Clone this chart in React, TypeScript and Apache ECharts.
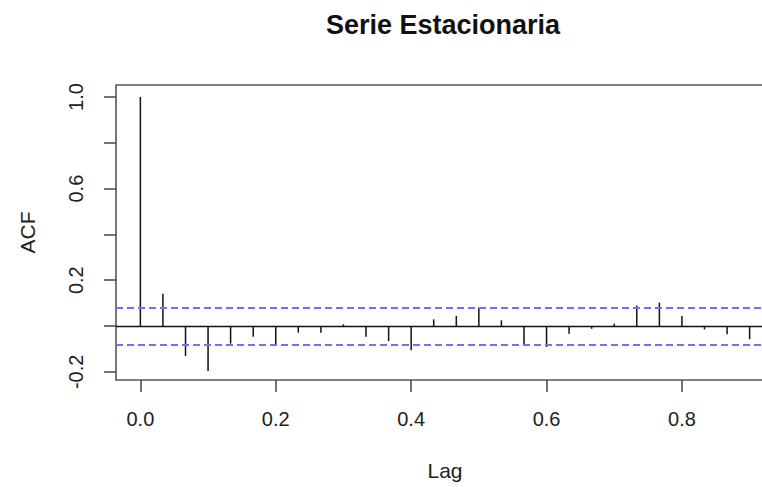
import React, { useEffect, useRef } from "react";
import * as echarts from "echarts";

const lags: number[] = [
  0.0, 0.0333, 0.0667, 0.1, 0.1333, 0.1667, 0.2, 0.2333, 0.2667, 0.3,
  0.3333, 0.3667, 0.4, 0.4333, 0.4667, 0.5, 0.5333, 0.5667, 0.6, 0.6333,
  0.6667, 0.7, 0.7333, 0.7667, 0.8, 0.8333, 0.8667, 0.9,
];
const acfValues: number[] = [
  1.0, 0.141, -0.131, -0.197, -0.077, -0.047, -0.083, -0.029, -0.029, 0.007,
  -0.047, -0.066, -0.106, 0.029, 0.044, 0.08, 0.025, -0.087, -0.092, -0.034,
  -0.012, 0.01, 0.09, 0.102, 0.044, -0.015, -0.036, -0.058,
];
const ciBound = 0.084;
const xTickValues: number[] = [0, 0.2, 0.4, 0.6, 0.8];
const yTickValues: number[] = [-0.2, 0, 0.2, 0.4, 0.6, 0.8, 1.0];
const yLabelValues: number[] = [-0.2, 0.2, 0.6, 1.0];
const titleText = "Serie Estacionaria";
const xName = "Lag";
const yName = "ACF";

const FONT = "'Liberation Sans', Arial, Helvetica, sans-serif";

export default function App() {
  const ref = useRef<HTMLDivElement>(null);
  useEffect(() => {
    if (!ref.current) return;
    const chart = echarts.init(ref.current, undefined, { renderer: "svg" });
    const data = lags.map((l, i) => [l, acfValues[i]]);
    chart.setOption({
      animation: false,
      backgroundColor: "#ffffff",
      title: {
        text: titleText,
        left: 438,
        top: 6,
        textAlign: "center",
        textStyle: {
          fontFamily: FONT,
          fontWeight: "bold",
          fontSize: 27,
          color: "#111",
        },
      },
      grid: {
        left: 116,
        top: 85,
        width: 658,
        height: 295,
        containLabel: false,
        outerBoundsMode: "none",
        show: true,
        borderColor: "#555",
        borderWidth: 1.6,
        backgroundColor: "transparent",
      },
      xAxis: {
        type: "value",
        min: -0.036,
        max: 0.936,
        name: xName,
        nameLocation: "middle",
        nameGap: 80,
        nameTextStyle: { fontFamily: FONT, fontSize: 21, color: "#222" },
        axisLine: { show: false, onZero: false },
        splitLine: { show: false },
        axisTick: {
          show: true,
          length: 12,
          customValues: xTickValues,
          lineStyle: { color: "#444", width: 1.5 },
        },
        axisLabel: {
          customValues: xTickValues,
          margin: 29,
          fontFamily: FONT,
          fontSize: 20,
          color: "#222",
          formatter: (v: number) => v.toFixed(1),
        },
      },
      yAxis: {
        type: "value",
        min: -0.2358,
        max: 1.0524,
        name: yName,
        nameLocation: "middle",
        nameGap: 78,
        nameTextStyle: { fontFamily: FONT, fontSize: 21, color: "#222" },
        axisLine: { show: false, onZero: false },
        splitLine: { show: false },
        axisTick: {
          show: true,
          length: 12,
          customValues: yTickValues,
          lineStyle: { color: "#444", width: 1.5 },
        },
        axisLabel: {
          customValues: yLabelValues,
          rotate: 90,
          margin: 30,
          fontFamily: FONT,
          fontSize: 20,
          color: "#222",
          formatter: (v: number) => v.toFixed(1),
        },
      },
      series: [
        {
          type: "custom",
          data: data,
          clip: false,
          renderItem: (params: any, api: any) => {
            const x = api.value(0);
            const y = api.value(1);
            const p0 = api.coord([x, 0]);
            const p1 = api.coord([x, y]);
            return {
              type: "line",
              shape: { x1: p0[0], y1: p0[1], x2: p1[0], y2: p1[1] },
              style: { stroke: "#111", lineWidth: 1.5 },
            };
          },
          markLine: {
            silent: true,
            symbol: "none",
            label: { show: false },
            data: [
              { yAxis: 0, lineStyle: { color: "#111", width: 1.4, type: "solid" } },
              { yAxis: ciBound, lineStyle: { color: "#7070ff", width: 2, type: [7, 4] } },
              { yAxis: -ciBound, lineStyle: { color: "#7070ff", width: 2, type: [7, 4] } },
            ],
          },
        },
      ],
    });
    return () => chart.dispose();
  }, []);
  return (
    <div
      ref={ref}
      style={{ position: "fixed", left: 0, top: 0, width: 762, height: 487, background: "#fff" }}
    />
  );
}
